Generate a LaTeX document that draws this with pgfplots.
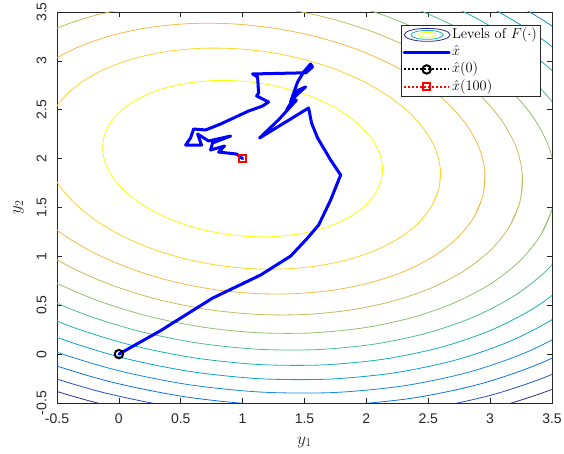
\documentclass[border=0pt]{standalone}
\usepackage{pgfplots}
\pgfplotsset{compat=1.18}
\usepackage{pgfplotstable}
\usepackage{fontspec}
\newfontfamily\ticksans{Liberation Sans}

\definecolor{axgray}{rgb}{0.15,0.15,0.15}
\definecolor{lvA}{rgb}{0.9763,0.9831,0.0538}
\definecolor{lvB}{rgb}{0.9764,0.8328,0.1590}
\definecolor{lvC}{rgb}{0.9609,0.7290,0.2765}
\definecolor{lvD}{rgb}{0.7798,0.7361,0.3657}
\definecolor{lvE}{rgb}{0.5744,0.7484,0.4480}
\definecolor{lvF}{rgb}{0.3188,0.7393,0.5626}
\definecolor{lvG}{rgb}{0.1029,0.6984,0.6932}
\definecolor{lvH}{rgb}{0.0232,0.6406,0.7924}
\definecolor{lvI}{rgb}{0.0730,0.5410,0.8259}
\definecolor{lvJ}{rgb}{0.0405,0.4500,0.8684}
\definecolor{lvK}{rgb}{0.1375,0.3155,0.8165}
\definecolor{lvL}{rgb}{0.2081,0.1663,0.5292}

\pgfplotsset{
  dotleg/.style={legend image code/.code={\draw[mark repeat=2, mark phase=2, ##1] plot coordinates {(0pt,0pt) (22.5pt,0pt) (45pt,0pt)};}},
  lineleg/.style={legend image code/.code={\draw[##1] (0pt,0pt) -- (45pt,0pt);}},
  ellleg/.style={legend image code/.code={
    \draw[lvL, line width=0.8pt] (23pt,0pt) ellipse (23pt and 6.5pt);
    \draw[lvG, line width=0.8pt] (23pt,0pt) ellipse (16pt and 4.5pt);
    \draw[lvA, line width=0.8pt] (23pt,0pt) ellipse (8.5pt and 2.5pt);}},
}

% unit level set of the quadratic (centred at 0), angle -10..370 deg
\pgfplotstableread{
u v
1.36221 -0.43782
1.41628 -0.27307
1.42733 -0.10002
1.39500 0.07606
1.32031 0.24983
1.20547 0.41602
1.05403 0.56954
0.87055 0.70579
0.66062 0.82057
0.43061 0.91044
0.18753 0.97263
-0.06125 1.00528
-0.30818 1.00737
-0.54573 0.97887
-0.76671 0.92060
-0.96439 0.83438
-1.13277 0.72281
-1.26672 0.58926
-1.36221 0.43782
-1.41628 0.27307
-1.42733 0.10002
-1.39500 -0.07606
-1.32031 -0.24983
-1.20547 -0.41602
-1.05403 -0.56954
-0.87055 -0.70579
-0.66062 -0.82057
-0.43061 -0.91044
-0.18753 -0.97263
0.06125 -1.00528
0.30818 -1.00737
0.54573 -0.97887
0.76671 -0.92060
0.96439 -0.83438
1.13277 -0.72281
1.26672 -0.58926
1.36221 -0.43782
1.41628 -0.27307
1.42733 -0.10002
}\unitell

\pgfplotstableread{
x y
0 0
0.337 0.240
0.757 0.573
1.145 0.809
1.388 1.003
1.517 1.177
1.614 1.320
1.711 1.576
1.792 1.832
1.711 1.986
1.606 2.211
1.557 2.364
1.533 2.518
1.137 2.211
1.289 2.395
1.436 2.600
1.355 2.497
1.452 2.702
1.509 2.733
1.436 2.651
1.387 2.579
1.444 2.784
1.493 2.886
1.549 2.968
1.565 2.938
1.509 2.876
1.436 2.876
1.080 2.866
1.121 2.835
1.129 2.671
1.113 2.641
1.210 2.579
1.161 2.538
1.048 2.487
0.822 2.354
0.701 2.293
0.604 2.303
0.579 2.211
0.539 2.139
0.668 2.139
0.636 2.252
0.725 2.180
0.903 2.231
0.757 2.160
0.741 2.088
0.854 2.129
0.806 2.067
0.951 2.047
1.000 2.000
}\traj

\begin{document}
\begin{tikzpicture}
\begin{axis}[
  name=ax,
  scale only axis,
  width=495pt, height=391pt,
  xmin=-0.5, xmax=3.5, ymin=-0.5, ymax=3.5,
  xtick={-0.5,0,0.5,1,1.5,2,2.5,3,3.5},
  ytick={-0.5,0,0.5,1,1.5,2,2.5,3,3.5},
  xticklabels={{-0.5},{0},{0.5},{1},{1.5},{2},{2.5},{3},{3.5}},
  yticklabels={{-0.5},{0},{0.5},{1},{1.5},{2},{2.5},{3},{3.5}},
  tick align=inside,
  major tick length=5pt,
  axis line style={axgray, line width=0.6pt},
  tick style={axgray, line width=0.6pt},
  ticklabel style={font=\ticksans\fontsize{14}{16}\selectfont, text=axgray},
  xticklabel shift=7pt,
  yticklabel shift=7pt,
  yticklabel style={rotate=90, anchor=south},
  xlabel={$y_1$}, ylabel={$y_2$},
  every axis x label/.style={at={(rel axis cs:0.5,0)}, yshift=-39pt, anchor=center},
  every axis y label/.style={at={(rel axis cs:0,0.5)}, xshift=-38.5pt, rotate=90, anchor=center},
  label style={font=\fontsize{17.28}{20}\selectfont, text=axgray},
  legend cell align=left,
  legend style={at={(0.976,0.967)}, anchor=north east, draw=axgray, line width=0.6pt,
    font=\fontsize{14.4}{17}\selectfont, inner sep=1.5pt, row sep=1pt,
    nodes={inner sep=1.5pt, text height=10pt, text depth=3.3pt}},
]
\addplot[lvA, line width=0.8pt, smooth, ellleg]
  table[x expr=1+0.79183*\thisrow{u}, y expr=2+0.79183*\thisrow{v}] {\unitell};
\addlegendentry{Levels of $F(\cdot)$}
\addplot[lvB, line width=0.8pt, smooth, forget plot] table[x expr=1+1.11982*\thisrow{u}, y expr=2+1.11982*\thisrow{v}] {\unitell};
\addplot[lvC, line width=0.8pt, smooth, forget plot] table[x expr=1+1.37150*\thisrow{u}, y expr=2+1.37150*\thisrow{v}] {\unitell};
\addplot[lvD, line width=0.8pt, smooth, forget plot] table[x expr=1+1.58366*\thisrow{u}, y expr=2+1.58366*\thisrow{v}] {\unitell};
\addplot[lvE, line width=0.8pt, smooth, forget plot] table[x expr=1+1.77059*\thisrow{u}, y expr=2+1.77059*\thisrow{v}] {\unitell};
\addplot[lvF, line width=0.8pt, smooth, forget plot] table[x expr=1+1.93959*\thisrow{u}, y expr=2+1.93959*\thisrow{v}] {\unitell};
\addplot[lvG, line width=0.8pt, smooth, forget plot] table[x expr=1+2.09500*\thisrow{u}, y expr=2+2.09500*\thisrow{v}] {\unitell};
\addplot[lvH, line width=0.8pt, smooth, forget plot] table[x expr=1+2.23964*\thisrow{u}, y expr=2+2.23964*\thisrow{v}] {\unitell};
\addplot[lvI, line width=0.8pt, smooth, forget plot] table[x expr=1+2.37550*\thisrow{u}, y expr=2+2.37550*\thisrow{v}] {\unitell};
\addplot[lvJ, line width=0.8pt, smooth, forget plot] table[x expr=1+2.50400*\thisrow{u}, y expr=2+2.50400*\thisrow{v}] {\unitell};
\addplot[lvK, line width=0.8pt, smooth, forget plot] table[x expr=1+2.62621*\thisrow{u}, y expr=2+2.62621*\thisrow{v}] {\unitell};
\addplot[lvL, line width=0.8pt, smooth, forget plot] table[x expr=1+2.74299*\thisrow{u}, y expr=2+2.74299*\thisrow{v}] {\unitell};

\addplot[blue, line width=3pt, line join=round, line cap=round, lineleg] table {\traj};
\addlegendentry{$\hat{x}$}

\addplot[black, line width=2pt, dash pattern=on 2pt off 2pt, mark=o, mark size=4.2pt,
  mark options={solid, line width=2pt}, dotleg]
  coordinates {(0,0)};
\addlegendentry{$\hat{x}(0)$}

\addplot[red, line width=2pt, dash pattern=on 2pt off 2pt, mark=square, mark size=3.6pt,
  mark options={solid, line width=2pt}, dotleg]
  coordinates {(1,2)};
\addlegendentry{$\hat{x}(100)$}
\end{axis}
\pgfresetboundingbox
\path[use as bounding box] ([xshift=-57pt,yshift=-51pt]ax.south west) rectangle ([xshift=12pt,yshift=12pt]ax.north east);
\end{tikzpicture}
\end{document}
